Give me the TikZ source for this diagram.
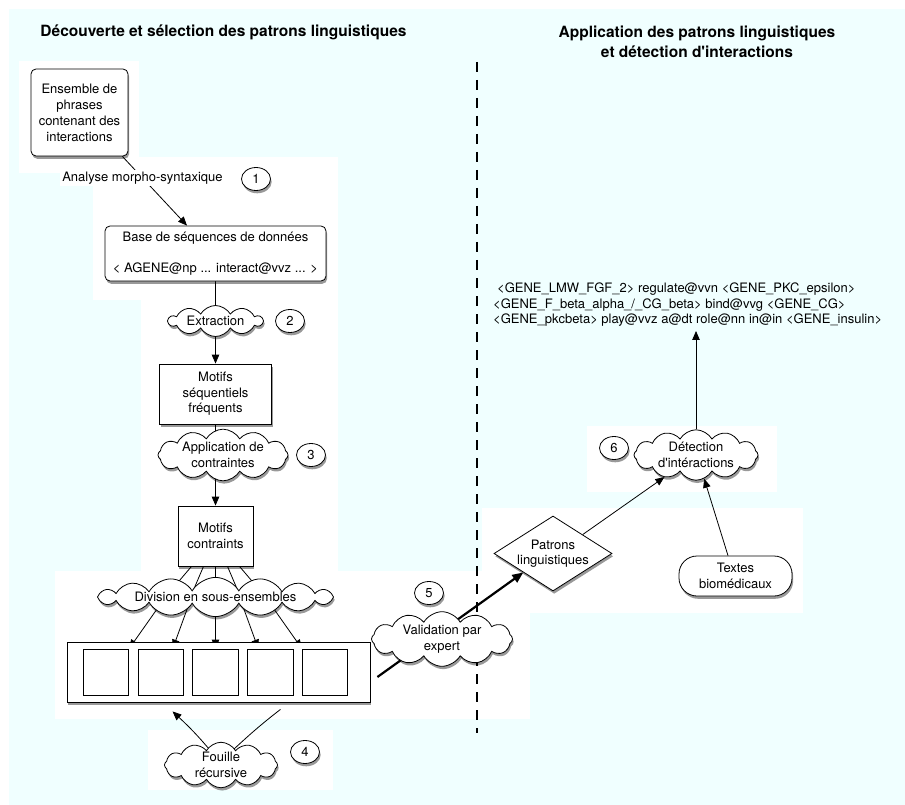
\documentclass[tikz,border=0pt]{standalone}
\usepackage{fontspec}
\setmainfont{TeX Gyre Heros}
\usetikzlibrary{shapes.geometric,shapes.symbols,shadows,arrows.meta,calc,backgrounds}
\definecolor{bgc}{RGB}{240,255,255}
\begin{document}
\begin{tikzpicture}[x=1pt,y=-1pt,
  every node/.style={font=\fontsize{13}{15.5}\selectfont, align=center, inner sep=0pt},
  shad/.style={drop shadow={shadow xshift=1.2pt, shadow yshift=-2.8pt, opacity=0.4, fill=black}},
  rbox/.style={draw, fill=white, rounded corners=5pt, shad, line width=0.8pt},
  sbox/.style={draw, fill=white, shad, line width=0.8pt},
  subbox/.style={draw, fill=white, line width=0.8pt, minimum width=45.5pt, minimum height=46pt},
  cl/.style={cloud, cloud puffs=12, cloud puff arc=120, cloud ignores aspect, draw, fill=white, shad, line width=0.8pt},
  numc/.style={ellipse, draw, fill=white, shad, minimum width=29pt, minimum height=23pt, line width=0.8pt},
  ln/.style={line width=0.8pt},
  arr/.style={ln, -{Triangle[length=9pt,width=7.5pt]}},
  bigarr/.style={line width=2.2pt, -{Triangle[length=11pt,width=9pt]}},
  wpatch/.style={fill=white},
  ttl/.style={font=\fontsize{15.5}{20}\selectfont\bfseries}
]
\useasboundingbox (0,0) rectangle (905,805);

% titles
\node[ttl] (t1) at (223.5,32) {Découverte et sélection des patrons linguistiques};
\node[ttl] (t2) at (697,42) {Application des patrons linguistiques\\et détection d\textquotesingle interactions};

% left column
\node[rbox, minimum width=97pt, minimum height=87pt, font=\fontsize{13}{16}\selectfont] (A) at (79.5,112.5) {Ensemble de\\phrases\\contenant des\\interactions};
\node[rbox, minimum width=221pt, minimum height=55pt] (base) at (215.5,253.5) {Base de séquences de données\\[15.5pt]< AGENE@np ... interact@vvz ... >};
\node[fill=white, inner sep=2pt] (lab1) at (142.5,178) {Analyse morpho-syntaxique};
\node[numc] (c1) at (256,179) {1};
\node[cl, cloud puffs=10, minimum width=94pt, minimum height=31pt] (ext) at (215.5,321) {Extraction};
\node[numc] (c2) at (290,321) {2};
\node[sbox, minimum width=112pt, minimum height=60pt] (mot) at (215.5,394) {Motifs\\séquentiels\\fréquents};
\node[cl, minimum width=130pt, minimum height=38pt] (app) at (223,455) {Application de\\contraintes};
\node[numc] (c3) at (311,455) {3};
\node[sbox, minimum width=75pt, minimum height=60pt] (mc) at (215.5,536) {Motifs\\contraints};
\node[cl, cloud puffs=16, minimum width=236pt, minimum height=35pt] (div) at (215.5,597) {Division en sous-ensembles};
\node[sbox, minimum width=303pt, minimum height=60pt] (cont) at (218.5,672) {};
\node[subbox] (s1) at (106,672) {};
\node[subbox] (s2) at (160.75,672) {};
\node[subbox] (s3) at (215.5,672) {};
\node[subbox] (s4) at (270.25,672) {};
\node[subbox] (s5) at (325,672) {};
\node[cl, minimum width=113pt, minimum height=40pt] (fou) at (221,765) {Fouille\\récursive};
\node[numc] (c4) at (305,752) {4};
\node[numc] (c5) at (429,593) {5};
\node[cl, minimum width=141pt, minimum height=47pt] (val) at (442,639) {Validation par\\expert};

% right column
\node[anchor=west, align=left, inner sep=4pt] (gene) at (489,305) {\hspace{4pt}<GENE\_LMW\_FGF\_2> regulate@vvn <GENE\_PKC\_epsilon>\\<GENE\_F\_beta\_alpha\_/\_CG\_beta> bind@vvg <GENE\_CG>\\<GENE\_pkcbeta> play@vvz a@dt role@nn in@in <GENE\_insulin>};
\node[cl, minimum width=124pt, minimum height=39pt] (det) at (696,455) {Détection\\d\textquotesingle intéractions};
\node[numc] (c6) at (614,448) {6};
\node[diamond, draw, fill=white, shad, line width=0.8pt, aspect=1.57, minimum width=118pt, minimum height=75pt] (pat) at (553,553.5) {Patrons\\linguistiques};
\node[draw, fill=white, shad, line width=0.8pt, rounded corners=18pt, minimum width=113pt, minimum height=40pt] (tex) at (735.5,576) {Textes\\biomédicaux};

\draw[arr] (pat.north east) -- (det.-145);
\draw[arr] ($(tex.north)+(-7.5,0)$) -- (det.-71);

\begin{pgfonlayer}{background}
\fill[bgc] (9,9) rectangle (905,805);
\fill[wpatch] (19,61) rectangle (139,173);
\fill[wpatch] (93,157) rectangle (338,300);
\fill[wpatch] (141,300) rectangle (338,571);
\fill[wpatch] (55,571) rectangle (530,719);
\fill[wpatch] (148,730) rectangle (333,790);
\fill[wpatch] (587,426) rectangle (777,492);
\fill[wpatch] (482,508) rectangle (803,613);
\coordinate (dtop) at (477,62);
\coordinate (dbot) at (477,733);
\draw[line width=2.2pt, dash pattern=on 10pt off 8pt] (dtop) -- (dbot);
\draw[arr] ($(A.south east)+(-6,0)$) -- ($(base.north)+(-28.5,0)$);
\draw[arr] (base.south) -- (mot.north);
\draw[arr] (mot.south) -- (mc.north);
\foreach \dx/\ex in {-24/-50,-12/-25,0/0,12/25,24/50}
  \draw[ln] ($(mc.south)+(\dx,0)$) -- ($(div.center)+(\ex,0)$);
\draw[arr] ($(div.center)+(-50,0)$) -- (s1.north east);
\draw[arr] ($(div.center)+(-24,0)$) -- ($(s2.north)+(12,0)$);
\draw[arr] (div.center) -- (s3.north);
\draw[arr] ($(div.center)+(24,0)$) -- ($(s4.north)+(-12,0)$);
\draw[arr] ($(div.center)+(50,0)$) -- (s5.north west);
\draw[arr] ($(cont.south)+(62,7)$) .. controls +(-82,63) and +(66,61) .. ($(cont.south)+(-46,9)$);
\draw[bigarr] ($(cont.east)+(7,5)$) -- (pat.south west);
\draw[arr] (det.north) -- (det.north |- gene.south);
\end{pgfonlayer}
\end{tikzpicture}
\end{document}
